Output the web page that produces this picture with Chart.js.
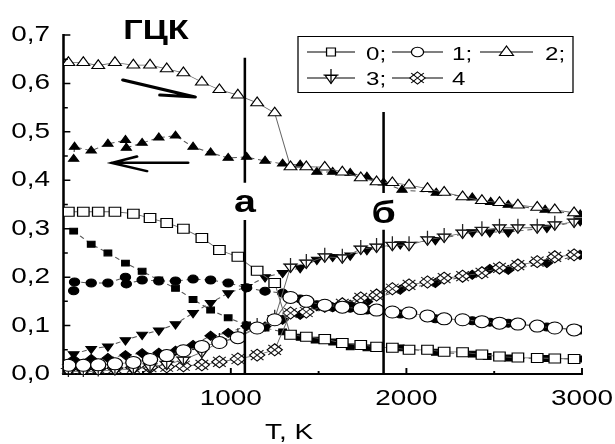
<!DOCTYPE html>
<html>
<head>
<meta charset="utf-8">
<script src="https://cdn.jsdelivr.net/npm/chart.js@4.4.1/dist/chart.umd.min.js"></script>
<style>
  html, body { margin: 0; padding: 0; background: #fff; }
</style>
</head>
<body>
<canvas id="chart" width="615" height="444"></canvas>
<script>
// ---- Données ----
// chauffage : symboles ouverts, refroidissement : symboles pleins
const T_HEAT = [75, 160, 245, 340, 445, 540, 635, 730, 835, 935, 1040, 1150, 1250, 1340, 1430,
                1535, 1635, 1740, 1830, 1920, 2015, 2120, 2215, 2320, 2430, 2530, 2635, 2745, 2845, 2955];
const S0_HEAT = [0.335, 0.335, 0.335, 0.335, 0.331, 0.322, 0.312, 0.300, 0.281, 0.256, 0.242, 0.213, 0.188, 0.081, 0.077,
                 0.072, 0.064, 0.060, 0.056, 0.054, 0.050, 0.050, 0.046, 0.045, 0.040, 0.036, 0.034, 0.033, 0.032, 0.031];
const S1_HEAT = [0.018, 0.018, 0.019, 0.021, 0.024, 0.030, 0.038, 0.048, 0.057, 0.065, 0.075, 0.095, 0.112, 0.158, 0.150,
                 0.142, 0.138, 0.135, 0.132, 0.128, 0.126, 0.120, 0.114, 0.112, 0.108, 0.105, 0.103, 0.099, 0.095, 0.091];
const S2_HEAT = [0.643, 0.643, 0.637, 0.643, 0.638, 0.638, 0.630, 0.622, 0.603, 0.587, 0.576, 0.560, 0.539, 0.428, 0.428,
                 0.427, 0.417, 0.405, 0.397, 0.395, 0.390, 0.383, 0.375, 0.366, 0.358, 0.354, 0.349, 0.344, 0.339, 0.333];
const S3_HEAT = [0.005, 0.005, 0.006, 0.008, 0.010, 0.015, 0.020, 0.029, 0.045, 0.066, 0.076, 0.097, 0.114, 0.221, 0.229,
                 0.242, 0.240, 0.258, 0.262, 0.266, 0.266, 0.277, 0.283, 0.291, 0.297, 0.302, 0.302, 0.302, 0.308, 0.314];
const S4_HEAT = [0.010, 0.010, 0.011, 0.012, 0.013, 0.014, 0.015, 0.017, 0.019, 0.025, 0.031, 0.039, 0.050, 0.126, 0.128,
                 0.140, 0.145, 0.157, 0.163, 0.176, 0.184, 0.190, 0.198, 0.202, 0.209, 0.219, 0.225, 0.232, 0.242, 0.246];

const T_COOL0 = [105, 205, 300, 400, 495, 590, 685, 785, 885, 985, 1090, 1195, 1295, 1395, 1480, 1580, 1680, 1775,
                 1965, 2165, 2375, 2460, 2580, 2800, 2990];
const S0_COOL = [0.295, 0.268, 0.250, 0.229, 0.212, 0.194, 0.177, 0.154, 0.132, 0.116, 0.101, 0.095, 0.087, 0.076,
                 0.070, 0.066, 0.056, 0.054, 0.054, 0.045, 0.041, 0.036, 0.033, 0.032, 0.031];
const T_COOL1 = [105, 110, 205, 300, 400, 405, 495, 590, 685, 785, 885, 985, 1090, 1195, 1295, 1395, 1490, 1580, 1680,
                 1775, 1965, 2165, 2375, 2475, 2580, 2800, 2990];
const S1_COOL = [0.172, 0.190, 0.188, 0.188, 0.200, 0.186, 0.194, 0.192, 0.192, 0.196, 0.194, 0.188, 0.178, 0.171,
                 0.167, 0.155, 0.143, 0.138, 0.136, 0.132, 0.124, 0.114, 0.110, 0.107, 0.105, 0.097, 0.091];
const T_COOL2 = [105, 110, 205, 300, 400, 405, 495, 590, 685, 785, 885, 985, 1090, 1195, 1295, 1395, 1490, 1580, 1680,
                 1775, 1870, 1975, 2170, 2375, 2480, 2580, 2790, 2990];
const S2_COOL = [0.444, 0.469, 0.461, 0.475, 0.483, 0.467, 0.477, 0.488, 0.492, 0.469, 0.457, 0.446, 0.448, 0.440,
                 0.434, 0.432, 0.417, 0.417, 0.415, 0.407, 0.395, 0.380, 0.374, 0.364, 0.355, 0.349, 0.339, 0.329];
const T_COOL34 = [105, 205, 300, 400, 495, 590, 685, 785, 885, 985, 1090, 1195, 1295, 1395, 1490, 1580, 1680, 1775,
                  1965, 2165, 2375, 2475, 2580, 2800, 2990];
const S3_COOL = [0.041, 0.052, 0.057, 0.070, 0.081, 0.090, 0.103, 0.126, 0.147, 0.167, 0.180, 0.200, 0.209, 0.219,
                 0.236, 0.242, 0.245, 0.256, 0.268, 0.277, 0.293, 0.293, 0.293, 0.302, 0.316];
const S4_COOL = [0.030, 0.031, 0.033, 0.039, 0.043, 0.044, 0.048, 0.060, 0.079, 0.085, 0.099, 0.098, 0.112, 0.122,
                 0.140, 0.138, 0.143, 0.149, 0.174, 0.188, 0.205, 0.217, 0.215, 0.229, 0.246];

const X_TICKS = [1000, 2000, 3000];
const X_MINOR = [500, 1500, 2500];
const Y_TICKS = [0, 0.1, 0.2, 0.3, 0.4, 0.5, 0.6, 0.7];
const Y_MINOR = [0.05, 0.15, 0.25, 0.35, 0.45, 0.55, 0.65];

// ---- Mise en page ----
const SX = 1.27;               // le scan est étiré horizontalement
const P = v => v / SX;         // px écran -> px logique
const FONT = '"Liberation Sans", Arial, sans-serif';

// lignes verticales а / б (en unités de données)
const MARK_LINES = [
  { t: 1080, top: 0.653, gapTop: 0.395, gapBottom: 0.318, label: 'а', labelY: 0.335 },
  { t: 1870, top: 0.541, gapTop: 0.374, gapBottom: 0.298, label: 'б', labelY: 0.312 }
];

const LEGEND_ITEMS = [
  { text: '0;', kind: 'square', x0: 307, x1: 355, tx: 366, row: 0 },
  { text: '1;', kind: 'circle', x0: 392, x1: 443, tx: 452, row: 0 },
  { text: '2;', kind: 'triUp',  x0: 480, x1: 533, tx: 545, row: 0 },
  { text: '3;', kind: 'triPlus', x0: 307, x1: 355, tx: 366, row: 1 },
  { text: '4',  kind: 'xDiamond', x0: 392, x1: 443, tx: 452, row: 1 }
];

function pts(xs, ys) {
  return xs.map((x, i) => ({ x: x, y: ys[i] }));
}

// --- petites fonctions de dessin des symboles spéciaux ---
function plusMark(ctx, x, y) {
  ctx.beginPath();
  ctx.moveTo(x, y - 9); ctx.lineTo(x, y + 5.5);
  ctx.moveTo(x - 6, y - 3); ctx.lineTo(x + 6, y - 3);
  ctx.stroke();
}
function crossMark(ctx, x, y) {
  ctx.beginPath();
  ctx.moveTo(x - 5, y - 5); ctx.lineTo(x + 5, y + 5);
  ctx.moveTo(x - 5, y + 5); ctx.lineTo(x + 5, y - 5);
  ctx.stroke();
}

function legendShape(ctx, kind, x, y) {
  ctx.fillStyle = '#fff';
  ctx.strokeStyle = '#000';
  ctx.lineWidth = 1;
  ctx.beginPath();
  if (kind === 'square') {
    ctx.rect(x - 3.5, y - 4, 7, 8);
  } else if (kind === 'circle') {
    ctx.arc(x, y, 4.8, 0, Math.PI * 2);
  } else if (kind === 'triUp') {
    ctx.moveTo(x, y - 6); ctx.lineTo(x + 5.5, y + 3.5); ctx.lineTo(x - 5.5, y + 3.5); ctx.closePath();
  } else if (kind === 'triPlus') {
    ctx.moveTo(x - 4.5, y - 2.5); ctx.lineTo(x + 4.5, y - 2.5); ctx.lineTo(x, y + 5.5); ctx.closePath();
  } else if (kind === 'xDiamond') {
    ctx.moveTo(x, y - 6); ctx.lineTo(x + 6, y); ctx.lineTo(x, y + 6); ctx.lineTo(x - 6, y); ctx.closePath();
  }
  ctx.fill();
  ctx.stroke();
  if (kind === 'triPlus') plusMark(ctx, x, y);
  if (kind === 'xDiamond') crossMark(ctx, x, y);
}

// ---- Plugin : étirement + annotations ----
const scanPlugin = {
  id: 'scan',
  beforeDraw(chart) {
    chart.ctx.save();
    chart.ctx.scale(SX, 1);
  },
  afterDatasetDraw(chart, args) {
    const ds = chart.data.datasets[args.index];
    if (!ds.overlay) return;
    const ctx = chart.ctx;
    ctx.save();
    ctx.strokeStyle = '#222';
    ctx.lineWidth = 1;
    args.meta.data.forEach(pt => {
      if (ds.overlay === 'plus') plusMark(ctx, pt.x, pt.y);
      else crossMark(ctx, pt.x, pt.y);
    });
    ctx.restore();
  },
  afterDraw(chart) {
    const ctx = chart.ctx;
    const xs = chart.scales.x, ys = chart.scales.y;
    const area = chart.chartArea;

    // graduations intérieures
    ctx.save();
    ctx.strokeStyle = '#000';
    ctx.lineWidth = 1.5;
    ctx.beginPath();
    X_TICKS.forEach(v => { const px = xs.getPixelForValue(v); ctx.moveTo(px, area.bottom); ctx.lineTo(px, area.bottom - 6); });
    X_MINOR.forEach(v => { const px = xs.getPixelForValue(v); ctx.moveTo(px, area.bottom); ctx.lineTo(px, area.bottom - 3); });
    Y_TICKS.forEach(v => { const py = ys.getPixelForValue(v); ctx.moveTo(area.left, py); ctx.lineTo(area.left + 5, py); });
    Y_MINOR.forEach(v => { const py = ys.getPixelForValue(v); ctx.moveTo(area.left, py); ctx.lineTo(area.left + 3, py); });
    ctx.stroke();

    // lignes а et б
    ctx.lineWidth = 2;
    ctx.fillStyle = '#000';
    ctx.font = 'bold 31px ' + FONT;
    ctx.textAlign = 'center';
    ctx.textBaseline = 'alphabetic';
    MARK_LINES.forEach(m => {
      const px = xs.getPixelForValue(m.t);
      ctx.beginPath();
      ctx.moveTo(px, ys.getPixelForValue(m.top));
      ctx.lineTo(px, ys.getPixelForValue(m.gapTop));
      ctx.moveTo(px, ys.getPixelForValue(m.gapBottom));
      ctx.lineTo(px, ys.getPixelForValue(0));
      ctx.stroke();
      ctx.fillText(m.label, px, ys.getPixelForValue(m.labelY));
    });

    // flèches chauffage / refroidissement
    const pt = (t, v) => [xs.getPixelForValue(t), ys.getPixelForValue(v)];
    ctx.lineWidth = 3;
    ctx.lineCap = 'round';
    let a = pt(386, 0.607), b = pt(796, 0.572), c = pt(597, 0.576);
    ctx.beginPath();
    ctx.moveTo(a[0], a[1]); ctx.lineTo(b[0], b[1]);
    ctx.moveTo(c[0], c[1]); ctx.lineTo(b[0], b[1]);
    ctx.stroke();
    ctx.lineWidth = 2.5;
    a = pt(323, 0.436); b = pt(756, 0.436);
    const u = pt(465, 0.449), d = pt(522, 0.419);
    ctx.beginPath();
    ctx.moveTo(b[0], b[1]); ctx.lineTo(a[0], a[1]);
    ctx.moveTo(u[0], u[1]); ctx.lineTo(a[0], a[1]); ctx.lineTo(d[0], d[1]);
    ctx.stroke();

    // titre
    ctx.font = 'bold 27px ' + FONT;
    ctx.fillText('ГЦК', P(156), 39);

    // titre de l'axe x
    ctx.font = '22px ' + FONT;
    ctx.fillText('T, K', P(289), 439);

    // légende
    ctx.lineWidth = 1;
    ctx.lineCap = 'butt';
    ctx.strokeRect(P(298), 36.5, P(275), 56);
    ctx.font = '19px ' + FONT;
    ctx.textAlign = 'left';
    LEGEND_ITEMS.forEach(it => {
      const ly = it.row === 0 ? 52 : 78;
      const base = it.row === 0 ? 60 : 85;
      ctx.strokeStyle = '#000';
      ctx.lineWidth = 1;
      ctx.beginPath();
      ctx.moveTo(P(it.x0), ly); ctx.lineTo(P(it.x1), ly);
      ctx.stroke();
      legendShape(ctx, it.kind, P((it.x0 + it.x1) / 2), ly);
      ctx.fillStyle = '#000';
      ctx.fillText(it.text, P(it.tx), base);
    });
    ctx.restore();

    chart.ctx.restore();   // fin de l'étirement
  }
};

// ---- Jeux de données ----
function heatSet(ys, style, r, extra) {
  return Object.assign({
    data: pts(T_HEAT, ys), showLine: true,
    borderColor: '#666', borderWidth: 0.8,
    pointStyle: style, pointRadius: r,
    pointBackgroundColor: '#fff', pointBorderColor: '#000', pointBorderWidth: 1
  }, extra || {});
}
function coolSet(xs, ys, style, r, extra) {
  return Object.assign({
    data: pts(xs, ys), showLine: true,
    borderColor: '#555', borderWidth: 1, borderDash: [4, 3],
    pointStyle: style, pointRadius: r,
    pointBackgroundColor: '#000', pointBorderColor: '#000', pointBorderWidth: 1
  }, extra || {});
}

const datasets = [
  heatSet(S0_HEAT, 'rect', 6.4),
  heatSet(S1_HEAT, 'circle', 6),
  heatSet(S2_HEAT, 'triangle', 5.8),
  heatSet(S3_HEAT, 'triangle', 5.5, { pointRotation: 180, overlay: 'plus' }),
  heatSet(S4_HEAT, 'rectRot', 6, { overlay: 'cross' }),
  coolSet(T_COOL0, S0_COOL, 'rect', 4.2),
  coolSet(T_COOL1, S1_COOL, 'circle', 4),
  coolSet(T_COOL2, S2_COOL, 'triangle', 4.6),
  coolSet(T_COOL34, S3_COOL, 'triangle', 4.8, { pointRotation: 180 }),
  coolSet(T_COOL34, S4_COOL, 'rectRot', 4.5)
];

new Chart(document.getElementById('chart'), {
  type: 'scatter',
  data: { datasets: datasets },
  options: {
    responsive: false,
    animation: false,
    events: [],
    layout: { padding: { left: 0, top: 35, right: 615 - P(582), bottom: 0 } },
    plugins: {
      legend: { display: false },
      tooltip: { enabled: false },
      title: { display: false }
    },
    scales: {
      x: {
        type: 'linear', min: 50, max: 3000,
        grid: { display: false, drawTicks: false },
        border: { display: true, color: '#000', width: 2 },
        afterBuildTicks: s => { s.ticks = X_TICKS.map(v => ({ value: v })); },
        afterFit: s => { s.height = 70; },
        ticks: {
          color: '#000', padding: 12, maxRotation: 0, autoSkip: false,
          font: { family: FONT, size: 22 },
          callback: v => String(v)
        }
      },
      y: {
        type: 'linear', min: 0, max: 0.7,
        grid: { display: false, drawTicks: false },
        border: { display: true, color: '#000', width: 2 },
        afterBuildTicks: s => { s.ticks = Y_TICKS.map(v => ({ value: v })); },
        afterFit: s => { s.width = P(64); },
        ticks: {
          color: '#000', padding: 11,
          font: { family: FONT, size: 22 },
          callback: v => v.toFixed(1).replace('.', ',')
        }
      }
    }
  },
  plugins: [scanPlugin]
});
</script>
</body>
</html>
